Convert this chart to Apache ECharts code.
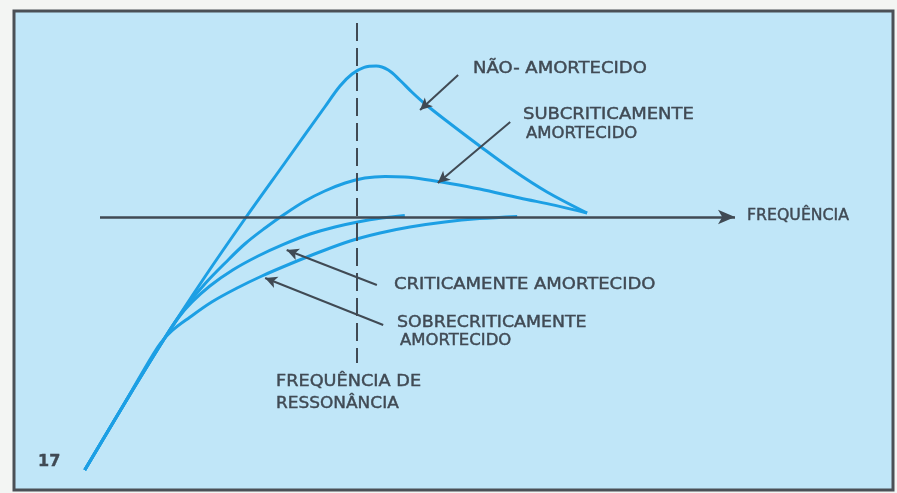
<!DOCTYPE html>
<html lang="pt">
<head>
  <meta charset="UTF-8">
  <title>Ressonância</title>
  <script src="https://cdn.jsdelivr.net/npm/echarts@6/dist/echarts.min.js"></script>
  <style>
    html, body { margin: 0; padding: 0; background: #f3f5f3; }
    #chart { width: 897px; height: 493px; }
  </style>
</head>
<body>
  <div id="chart"></div>
  <script>
    // frequencia (0..100 = eixo ate a seta) x amplitude (0 = eixo horizontal)
    var naoAmortecido = [
      [-2.4, -126.5], [3.9, -93], [10.2, -60.5], [16.5, -30], [22.8, -1], [29.1, 27], [35.4, 55],
      [37.8, 65.5], [39.7, 71.5], [41.6, 74.8], [43.5, 75.5], [45.4, 73.5], [47.2, 68.5],
      [49.1, 62.5], [51.2, 56.5], [54.6, 48], [59.8, 35.5], [65.0, 23.5], [70.4, 12.5], [76.7, 2]
    ];
    var subcritico = [
      [-2.4, -126.5], [3.9, -93], [10.2, -60.5], [13.4, -45.5], [16.5, -33.5], [19.7, -23],
      [22.8, -13.5], [26.0, -5.5], [29.1, 1.5], [32.3, 8], [35.4, 13], [38.6, 17], [41.7, 19.5],
      [44.9, 20.3], [48.0, 20], [51.2, 18.8], [55.1, 16.8], [59.8, 14], [66.1, 9.5], [71.7, 5.8], [76.7, 2]
    ];
    var critico = [
      [-2.4, -126.5], [3.9, -93], [10.2, -60.5], [12.3, -50.5], [14.5, -42.5], [17.3, -34.5],
      [20.9, -26.5], [24.9, -19.5], [28.8, -13.8], [33.1, -8.5], [37.0, -5], [40.6, -2.5],
      [44.4, -0.5], [48.0, 0.8]
    ];
    var sobrecritico = [
      [-2.4, -126.5], [3.9, -93], [9.1, -65], [11.3, -57], [14.2, -50], [17.6, -42.5], [21.6, -35.5],
      [25.5, -29.5], [29.9, -23.5], [34.6, -17.5], [39.4, -12], [44.1, -8], [48.8, -5],
      [54.3, -2.5], [59.8, -0.8], [65.7, 0.3]
    ];
    var freqRessonancia = 40.5;
    var eixoX = [0, 100];
    var linhaRessonancia = [97, -73];
    // setas das legendas: [inicio, ponta]
    var setaNao = [[56.4, 71], [50.4, 53.5]];
    var setaSub = [[64.6, 47.5], [53.2, 17]];
    var setaCrit = [[43.6, -34], [29.4, -16.5]];
    var setaSobre = [[44.6, -54], [26, -30.5]];

    var azul = '#1c9fe4';
    var cinza = '#404a54';
    var fonte = '15px "DejaVu Sans", sans-serif';

    var myChart = echarts.init(document.getElementById('chart'));

    function seta(p) {
      return {
        silent: true,
        symbol: ['none', 'arrow'],
        symbolSize: [9, 12],
        label: { show: false },
        lineStyle: { color: cinza, width: 2, type: 'solid' },
        data: [[{ coord: p[0] }, { coord: p[1] }]]
      };
    }

    function curva(nome, dados, markLine) {
      return {
        name: nome,
        type: 'line',
        data: dados,
        smooth: 0.35,
        showSymbol: false,
        clip: false,
        lineStyle: { color: azul, width: 3 },
        markLine: markLine
      };
    }

    // texto esticado na horizontal, como as letras espacadas do original
    function texto(x, y, t, sx, fonteTexto) {
      return {
        type: 'text',
        silent: true,
        x: x,
        y: y,
        scaleX: sx,
        style: {
          x: 0, y: 0, text: t, font: fonteTexto || fonte, fill: cinza,
          stroke: cinza, lineWidth: 0.4, verticalAlign: 'middle'
        }
      };
    }

    var option = {
      backgroundColor: '#f3f5f3',
      animation: false,
      grid: { left: 74.6, right: 162, top: 17, bottom: 16 },
      xAxis: { type: 'value', min: -4, max: 100, show: false },
      yAxis: { type: 'value', min: -130, max: 100, show: false },
      graphic: [
        {
          type: 'rect', silent: true, z: -10,
          shape: { x: 14, y: 11, width: 879, height: 479 },
          style: { fill: '#c0e6f8', stroke: '#4b5056', lineWidth: 3 }
        },
        texto(473, 69, 'NÃO- AMORTECIDO', 1.2),
        texto(523, 115, 'SUBCRITICAMENTE', 1.2),
        texto(526, 134, 'AMORTECIDO', 1.1),
        texto(747, 216, 'FREQUÊNCIA', 1.05),
        texto(394, 285, 'CRITICAMENTE AMORTECIDO', 1.2),
        texto(397, 323, 'SOBRECRITICAMENTE', 1.16),
        texto(400, 341, 'AMORTECIDO', 1.1),
        texto(276, 382, 'FREQUÊNCIA DE', 1.18),
        texto(276, 404, 'RESSONÂNCIA', 1.13),
        texto(38, 462, '17', 1, 'bold 16px "DejaVu Sans", sans-serif')
      ],
      series: [
        curva('eixos', [], {
          silent: true,
          label: { show: false },
          data: [
            [
              { coord: [eixoX[0], 0], symbol: 'none', lineStyle: { color: cinza, width: 2.5, type: 'solid' } },
              { coord: [eixoX[1], 0], symbol: 'arrow', symbolSize: [11, 17] }
            ],
            [
              { coord: [freqRessonancia, linhaRessonancia[0]], symbol: 'none', lineStyle: { color: cinza, width: 2, type: [18, 7] } },
              { coord: [freqRessonancia, linhaRessonancia[1]], symbol: 'none' }
            ]
          ]
        }),
        curva('Não-amortecido', naoAmortecido, seta(setaNao)),
        curva('Subcriticamente amortecido', subcritico, seta(setaSub)),
        curva('Criticamente amortecido', critico, seta(setaCrit)),
        curva('Sobrecriticamente amortecido', sobrecritico, seta(setaSobre))
      ]
    };

    myChart.setOption(option);
  </script>
</body>
</html>
